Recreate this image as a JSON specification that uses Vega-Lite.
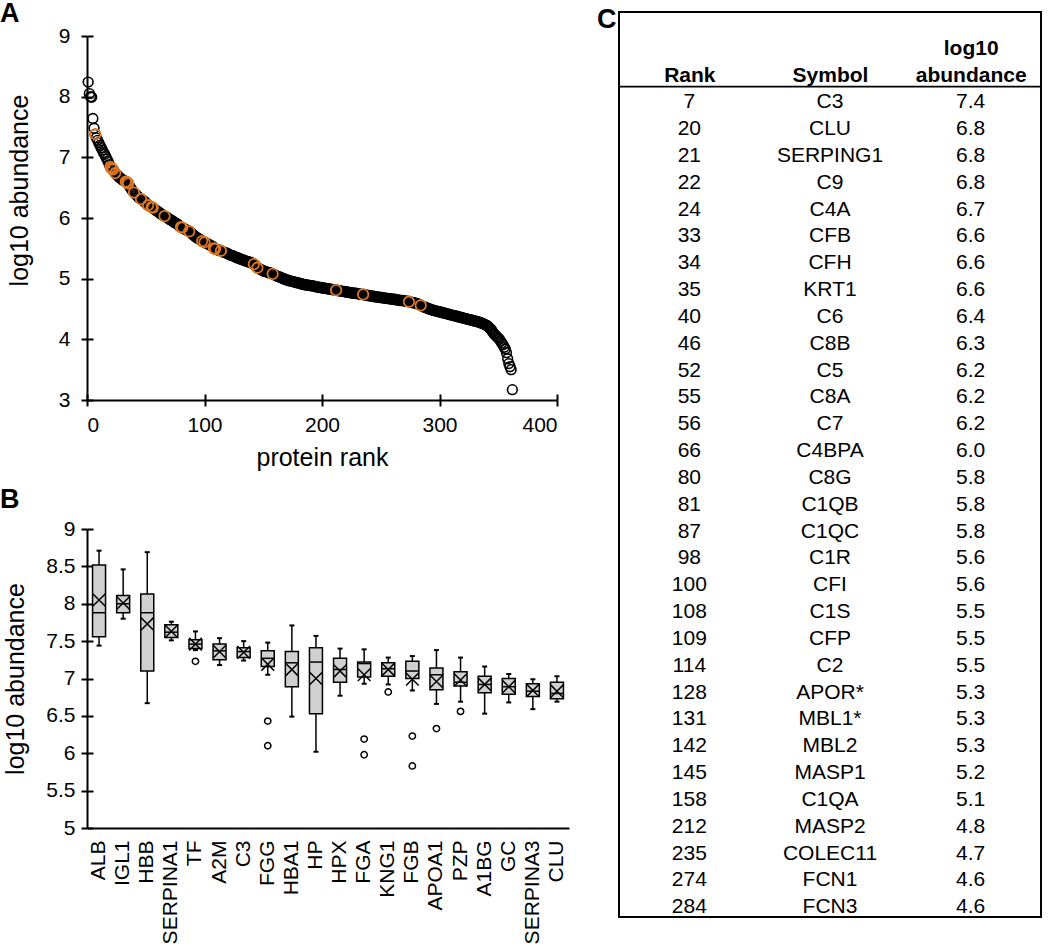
{
  "$schema": "https://vega.github.io/schema/vega-lite/v6.json",
  "background": "white",
  "padding": {"left": 0, "top": 0, "right": 0, "bottom": 0},
  "config": {
    "view": {"stroke": null},
    "font": "Liberation Sans",
    "axis": {"domainColor": "black", "tickColor": "black", "labelColor": "black", "titleColor": "black", "labelFont": "Liberation Sans", "titleFont": "Liberation Sans", "labelFontSize": 21, "titleFontSize": 25, "titleFontWeight": "normal", "grid": false, "domainWidth": 2, "tickWidth": 2, "tickSize": 6},
    "title": {"font": "Liberation Sans", "fontSize": 27, "fontWeight": "bold", "anchor": "start", "color": "black", "frame": "group"}
  },
  "datasets": {
    "curve": [
      {"r":1,"v":8.24},{"r":2,"v":8.05},{"r":3,"v":8.0},{"r":4,"v":7.99},{"r":5,"v":7.64},{"r":6,"v":7.48},{"r":7,"v":7.38},{"r":8,"v":7.32},{"r":9,"v":7.28},{"r":10,"v":7.24},
      {"r":11,"v":7.2},{"r":12,"v":7.16},{"r":13,"v":7.12},{"r":14,"v":7.08},{"r":15,"v":7.05},{"r":16,"v":7.01},{"r":17,"v":6.97},{"r":18,"v":6.93},{"r":19,"v":6.88},{"r":20,"v":6.84},
      {"r":21,"v":6.82},{"r":22,"v":6.8},{"r":23,"v":6.77},{"r":24,"v":6.74},{"r":25,"v":6.72},{"r":26,"v":6.7},{"r":27,"v":6.68},{"r":28,"v":6.66},{"r":29,"v":6.65},{"r":30,"v":6.63},
      {"r":31,"v":6.62},{"r":32,"v":6.61},{"r":33,"v":6.6},{"r":34,"v":6.59},{"r":35,"v":6.57},{"r":36,"v":6.53},{"r":37,"v":6.5},{"r":38,"v":6.47},{"r":39,"v":6.44},{"r":40,"v":6.42},
      {"r":41,"v":6.4},{"r":42,"v":6.38},{"r":43,"v":6.36},{"r":44,"v":6.34},{"r":45,"v":6.32},{"r":46,"v":6.31},{"r":47,"v":6.3},{"r":48,"v":6.29},{"r":49,"v":6.27},{"r":50,"v":6.25},
      {"r":51,"v":6.23},{"r":52,"v":6.21},{"r":53,"v":6.2},{"r":54,"v":6.19},{"r":55,"v":6.18},{"r":56,"v":6.17},{"r":57,"v":6.15},{"r":58,"v":6.14},{"r":59,"v":6.12},{"r":60,"v":6.11},
      {"r":61,"v":6.1},{"r":62,"v":6.08},{"r":63,"v":6.07},{"r":64,"v":6.05},{"r":65,"v":6.04},{"r":66,"v":6.03},{"r":67,"v":6.02},{"r":68,"v":6.01},{"r":69,"v":6.0},{"r":70,"v":5.98},
      {"r":71,"v":5.97},{"r":72,"v":5.96},{"r":73,"v":5.95},{"r":74,"v":5.93},{"r":75,"v":5.92},{"r":76,"v":5.91},{"r":77,"v":5.9},{"r":78,"v":5.88},{"r":79,"v":5.86},{"r":80,"v":5.85},
      {"r":81,"v":5.84},{"r":82,"v":5.83},{"r":83,"v":5.82},{"r":84,"v":5.81},{"r":85,"v":5.8},{"r":86,"v":5.79},{"r":87,"v":5.78},{"r":88,"v":5.77},{"r":89,"v":5.75},{"r":90,"v":5.73},
      {"r":91,"v":5.71},{"r":92,"v":5.7},{"r":93,"v":5.68},{"r":94,"v":5.67},{"r":95,"v":5.66},{"r":96,"v":5.65},{"r":97,"v":5.63},{"r":98,"v":5.62},{"r":99,"v":5.61},{"r":100,"v":5.6},
      {"r":101,"v":5.59},{"r":102,"v":5.58},{"r":103,"v":5.57},{"r":104,"v":5.56},{"r":105,"v":5.55},{"r":106,"v":5.54},{"r":107,"v":5.53},{"r":108,"v":5.5},{"r":109,"v":5.49},{"r":110,"v":5.48},
      {"r":111,"v":5.48},{"r":112,"v":5.47},{"r":113,"v":5.47},{"r":114,"v":5.46},{"r":115,"v":5.45},{"r":116,"v":5.44},{"r":117,"v":5.43},{"r":118,"v":5.43},{"r":119,"v":5.42},{"r":120,"v":5.41},
      {"r":121,"v":5.4},{"r":122,"v":5.39},{"r":123,"v":5.38},{"r":124,"v":5.38},{"r":125,"v":5.37},{"r":126,"v":5.36},{"r":127,"v":5.35},{"r":128,"v":5.34},{"r":129,"v":5.34},{"r":130,"v":5.33},
      {"r":131,"v":5.32},{"r":132,"v":5.31},{"r":133,"v":5.31},{"r":134,"v":5.3},{"r":135,"v":5.29},{"r":136,"v":5.29},{"r":137,"v":5.28},{"r":138,"v":5.27},{"r":139,"v":5.27},{"r":140,"v":5.26},
      {"r":141,"v":5.25},{"r":142,"v":5.24},{"r":143,"v":5.22},{"r":144,"v":5.2},{"r":145,"v":5.18},{"r":146,"v":5.17},{"r":147,"v":5.16},{"r":148,"v":5.15},{"r":149,"v":5.14},{"r":150,"v":5.13},
      {"r":151,"v":5.12},{"r":152,"v":5.12},{"r":153,"v":5.11},{"r":154,"v":5.1},{"r":155,"v":5.1},{"r":156,"v":5.09},{"r":157,"v":5.09},{"r":158,"v":5.08},{"r":159,"v":5.07},{"r":160,"v":5.06},
      {"r":161,"v":5.05},{"r":162,"v":5.04},{"r":163,"v":5.03},{"r":164,"v":5.03},{"r":165,"v":5.02},{"r":166,"v":5.01},{"r":167,"v":5.0},{"r":168,"v":4.99},{"r":169,"v":4.99},{"r":170,"v":4.98},
      {"r":171,"v":4.97},{"r":172,"v":4.97},{"r":173,"v":4.96},{"r":174,"v":4.96},{"r":175,"v":4.95},{"r":176,"v":4.95},{"r":177,"v":4.94},{"r":178,"v":4.94},{"r":179,"v":4.93},{"r":180,"v":4.93},
      {"r":181,"v":4.92},{"r":182,"v":4.92},{"r":183,"v":4.91},{"r":184,"v":4.91},{"r":185,"v":4.9},{"r":186,"v":4.9},{"r":187,"v":4.9},{"r":188,"v":4.89},{"r":189,"v":4.89},{"r":190,"v":4.89},
      {"r":191,"v":4.88},{"r":192,"v":4.88},{"r":193,"v":4.88},{"r":194,"v":4.87},{"r":195,"v":4.87},{"r":196,"v":4.86},{"r":197,"v":4.86},{"r":198,"v":4.86},{"r":199,"v":4.85},{"r":200,"v":4.85},
      {"r":201,"v":4.85},{"r":202,"v":4.84},{"r":203,"v":4.84},{"r":204,"v":4.84},{"r":205,"v":4.83},{"r":206,"v":4.83},{"r":207,"v":4.83},{"r":208,"v":4.82},{"r":209,"v":4.82},{"r":210,"v":4.82},
      {"r":211,"v":4.81},{"r":212,"v":4.81},{"r":213,"v":4.81},{"r":214,"v":4.8},{"r":215,"v":4.8},{"r":216,"v":4.8},{"r":217,"v":4.79},{"r":218,"v":4.79},{"r":219,"v":4.79},{"r":220,"v":4.78},
      {"r":221,"v":4.78},{"r":222,"v":4.78},{"r":223,"v":4.77},{"r":224,"v":4.77},{"r":225,"v":4.77},{"r":226,"v":4.76},{"r":227,"v":4.76},{"r":228,"v":4.76},{"r":229,"v":4.76},{"r":230,"v":4.75},
      {"r":231,"v":4.75},{"r":232,"v":4.75},{"r":233,"v":4.74},{"r":234,"v":4.74},{"r":235,"v":4.74},{"r":236,"v":4.73},{"r":237,"v":4.73},{"r":238,"v":4.73},{"r":239,"v":4.72},{"r":240,"v":4.72},
      {"r":241,"v":4.72},{"r":242,"v":4.71},{"r":243,"v":4.71},{"r":244,"v":4.71},{"r":245,"v":4.7},{"r":246,"v":4.7},{"r":247,"v":4.7},{"r":248,"v":4.7},{"r":249,"v":4.69},{"r":250,"v":4.69},
      {"r":251,"v":4.69},{"r":252,"v":4.68},{"r":253,"v":4.68},{"r":254,"v":4.68},{"r":255,"v":4.68},{"r":256,"v":4.67},{"r":257,"v":4.67},{"r":258,"v":4.67},{"r":259,"v":4.66},{"r":260,"v":4.66},
      {"r":261,"v":4.66},{"r":262,"v":4.66},{"r":263,"v":4.65},{"r":264,"v":4.65},{"r":265,"v":4.65},{"r":266,"v":4.64},{"r":267,"v":4.64},{"r":268,"v":4.64},{"r":269,"v":4.64},{"r":270,"v":4.63},
      {"r":271,"v":4.63},{"r":272,"v":4.63},{"r":273,"v":4.63},{"r":274,"v":4.62},{"r":275,"v":4.62},{"r":276,"v":4.61},{"r":277,"v":4.61},{"r":278,"v":4.6},{"r":279,"v":4.6},{"r":280,"v":4.59},
      {"r":281,"v":4.59},{"r":282,"v":4.58},{"r":283,"v":4.57},{"r":284,"v":4.56},{"r":285,"v":4.55},{"r":286,"v":4.54},{"r":287,"v":4.53},{"r":288,"v":4.53},{"r":289,"v":4.52},{"r":290,"v":4.51},
      {"r":291,"v":4.5},{"r":292,"v":4.5},{"r":293,"v":4.49},{"r":294,"v":4.48},{"r":295,"v":4.48},{"r":296,"v":4.47},{"r":297,"v":4.47},{"r":298,"v":4.46},{"r":299,"v":4.46},{"r":300,"v":4.45},
      {"r":301,"v":4.45},{"r":302,"v":4.44},{"r":303,"v":4.44},{"r":304,"v":4.43},{"r":305,"v":4.43},{"r":306,"v":4.42},{"r":307,"v":4.42},{"r":308,"v":4.41},{"r":309,"v":4.41},{"r":310,"v":4.4},
      {"r":311,"v":4.4},{"r":312,"v":4.39},{"r":313,"v":4.39},{"r":314,"v":4.38},{"r":315,"v":4.38},{"r":316,"v":4.37},{"r":317,"v":4.37},{"r":318,"v":4.36},{"r":319,"v":4.36},{"r":320,"v":4.35},
      {"r":321,"v":4.35},{"r":322,"v":4.34},{"r":323,"v":4.34},{"r":324,"v":4.33},{"r":325,"v":4.33},{"r":326,"v":4.32},{"r":327,"v":4.32},{"r":328,"v":4.31},{"r":329,"v":4.31},{"r":330,"v":4.3},
      {"r":331,"v":4.3},{"r":332,"v":4.29},{"r":333,"v":4.29},{"r":334,"v":4.28},{"r":335,"v":4.27},{"r":336,"v":4.27},{"r":337,"v":4.26},{"r":338,"v":4.25},{"r":339,"v":4.24},{"r":340,"v":4.23},
      {"r":341,"v":4.22},{"r":342,"v":4.2},{"r":343,"v":4.18},{"r":344,"v":4.16},{"r":345,"v":4.13},{"r":346,"v":4.1},{"r":347,"v":4.08},{"r":348,"v":4.06},{"r":349,"v":4.04},{"r":350,"v":4.02},
      {"r":351,"v":4.0},{"r":352,"v":3.97},{"r":353,"v":3.94},{"r":354,"v":3.91},{"r":355,"v":3.87},{"r":356,"v":3.84},{"r":357,"v":3.78},{"r":358,"v":3.68},{"r":359,"v":3.6},{"r":360,"v":3.55},
      {"r":361,"v":3.5},{"r":362,"v":3.17}
    ],
    "boxes": [
      {"p":"ALB","lo":7.44,"q1":7.56,"med":7.88,"q3":8.52,"hi":8.71,"mean":8.05},
      {"p":"IGL1","lo":7.8,"q1":7.88,"med":8.0,"q3":8.11,"hi":8.46,"mean":8.01},
      {"p":"HBB","lo":6.67,"q1":7.1,"med":7.88,"q3":8.13,"hi":8.69,"mean":7.73},
      {"p":"SERPINA1","lo":7.51,"q1":7.55,"med":7.62,"q3":7.72,"hi":7.76,"mean":7.63},
      {"p":"TF","lo":7.38,"q1":7.4,"med":7.46,"q3":7.52,"hi":7.63,"mean":7.46},
      {"p":"A2M","lo":7.18,"q1":7.25,"med":7.37,"q3":7.46,"hi":7.54,"mean":7.36},
      {"p":"C3","lo":7.24,"q1":7.28,"med":7.36,"q3":7.41,"hi":7.5,"mean":7.35},
      {"p":"FGG","lo":7.05,"q1":7.16,"med":7.27,"q3":7.37,"hi":7.48,"mean":7.19},
      {"p":"HBA1","lo":6.49,"q1":6.89,"med":7.21,"q3":7.36,"hi":7.71,"mean":7.12},
      {"p":"HP","lo":6.02,"q1":6.53,"med":7.22,"q3":7.41,"hi":7.57,"mean":7.0},
      {"p":"HPX","lo":6.77,"q1":6.95,"med":7.12,"q3":7.27,"hi":7.4,"mean":7.1},
      {"p":"FGA","lo":6.93,"q1":7.02,"med":7.2,"q3":7.22,"hi":7.39,"mean":7.05},
      {"p":"KNG1","lo":6.92,"q1":7.03,"med":7.13,"q3":7.21,"hi":7.28,"mean":7.12},
      {"p":"FGB","lo":6.84,"q1":7.0,"med":7.1,"q3":7.23,"hi":7.3,"mean":6.99},
      {"p":"APOA1","lo":6.66,"q1":6.85,"med":7.05,"q3":7.14,"hi":7.38,"mean":6.96},
      {"p":"PZP","lo":6.69,"q1":6.9,"med":6.95,"q3":7.09,"hi":7.28,"mean":6.98},
      {"p":"A1BG","lo":6.53,"q1":6.81,"med":6.92,"q3":7.03,"hi":7.16,"mean":6.92},
      {"p":"GC","lo":6.68,"q1":6.79,"med":6.89,"q3":7.0,"hi":7.06,"mean":6.89},
      {"p":"SERPINA3","lo":6.59,"q1":6.76,"med":6.83,"q3":6.93,"hi":6.99,"mean":6.84},
      {"p":"CLU","lo":6.69,"q1":6.73,"med":6.8,"q3":6.95,"hi":7.03,"mean":6.83}
    ],
    "outliers": [
      {"p":"TF","v":7.23},{"p":"FGG","v":6.43},{"p":"FGG","v":6.1},{"p":"FGA","v":6.19},{"p":"FGA","v":5.98},
      {"p":"KNG1","v":6.82},{"p":"FGB","v":6.23},{"p":"FGB","v":5.83},{"p":"APOA1","v":6.33},{"p":"PZP","v":6.56}
    ],
    "table": [
      {"Rank":7,"Symbol":"C3","log10":7.4},{"Rank":20,"Symbol":"CLU","log10":6.8},{"Rank":21,"Symbol":"SERPING1","log10":6.8},
      {"Rank":22,"Symbol":"C9","log10":6.8},{"Rank":24,"Symbol":"C4A","log10":6.7},{"Rank":33,"Symbol":"CFB","log10":6.6},
      {"Rank":34,"Symbol":"CFH","log10":6.6},{"Rank":35,"Symbol":"KRT1","log10":6.6},{"Rank":40,"Symbol":"C6","log10":6.4},
      {"Rank":46,"Symbol":"C8B","log10":6.3},{"Rank":52,"Symbol":"C5","log10":6.2},{"Rank":55,"Symbol":"C8A","log10":6.2},
      {"Rank":56,"Symbol":"C7","log10":6.2},{"Rank":66,"Symbol":"C4BPA","log10":6.0},{"Rank":80,"Symbol":"C8G","log10":5.8},
      {"Rank":81,"Symbol":"C1QB","log10":5.8},{"Rank":87,"Symbol":"C1QC","log10":5.8},{"Rank":98,"Symbol":"C1R","log10":5.6},
      {"Rank":100,"Symbol":"CFI","log10":5.6},{"Rank":108,"Symbol":"C1S","log10":5.5},{"Rank":109,"Symbol":"CFP","log10":5.5},
      {"Rank":114,"Symbol":"C2","log10":5.5},{"Rank":128,"Symbol":"APOR*","log10":5.3},{"Rank":131,"Symbol":"MBL1*","log10":5.3},
      {"Rank":142,"Symbol":"MBL2","log10":5.3},{"Rank":145,"Symbol":"MASP1","log10":5.2},{"Rank":158,"Symbol":"C1QA","log10":5.1},
      {"Rank":212,"Symbol":"MASP2","log10":4.8},{"Rank":235,"Symbol":"COLEC11","log10":4.7},{"Rank":274,"Symbol":"FCN1","log10":4.6},
      {"Rank":284,"Symbol":"FCN3","log10":4.6}
    ]
  },
  "hconcat": [
    {
      "vconcat": [
        {"width": 1, "height": 1, "data": {"values": []}, "mark": "point", "encoding": {}},
        {
          "vconcat": [
            {
              "width": 470, "height": 364,
              "title": {"text": "A", "dx": -87, "dy": 7},
              "data": {"name": "curve"},
              "layer": [
                {
                  "mark": {"type": "point", "shape": "circle", "filled": false, "stroke": "black", "strokeWidth": 1.6, "size": 95, "opacity": 1},
                  "encoding": {
                    "x": {"field": "r", "type": "quantitative", "scale": {"domain": [0, 400]}, "axis": {"values": [0, 100, 200, 300, 400], "title": "protein rank", "labelPadding": 8, "titlePadding": 10}},
                    "y": {"field": "v", "type": "quantitative", "scale": {"domain": [3, 9]}, "axis": {"values": [3, 4, 5, 6, 7, 8, 9], "title": "log10 abundance", "labelPadding": 11, "titlePadding": 26, "titleY": 154}}
                  }
                },
                {
                  "transform": [{"filter": {"field": "r", "oneOf": [7, 20, 21, 22, 24, 33, 34, 35, 40, 46, 52, 55, 56, 66, 80, 81, 87, 98, 100, 108, 109, 114, 142, 145, 158, 212, 235, 274, 284]}}],
                  "mark": {"type": "point", "shape": "circle", "filled": false, "stroke": "#DD7722", "strokeWidth": 1.8, "size": 110, "opacity": 1},
                  "encoding": {
                    "x": {"field": "r", "type": "quantitative", "axis": {"orient": "bottom", "offset": -6, "domain": false, "labels": false, "title": null, "values": [0, 100, 200, 300, 400]}},
                    "y": {"field": "v", "type": "quantitative", "axis": {"orient": "left", "offset": -6, "domain": false, "labels": false, "title": null, "values": [3, 4, 5, 6, 7, 8, 9]}}
                  }
                }
              ],
              "resolve": {"axis": {"x": "independent", "y": "independent"}}
            },
            {
              "width": 482, "height": 299,
              "title": {"text": "B", "dx": -87, "dy": 0},
              "layer": [
                {
                  "data": {"name": "boxes"},
                  "mark": {"type": "rule", "color": "black", "strokeWidth": 1.5},
                  "encoding": {
                    "x": {"field": "p", "type": "nominal", "sort": null, "scale": {"paddingInner": 0, "paddingOuter": 0}, "axis": {"title": null, "labelAngle": -90, "ticks": false, "labelPadding": 12}},
                    "y": {"field": "lo", "type": "quantitative", "scale": {"domain": [5, 9]}, "axis": {"values": [5, 5.5, 6, 6.5, 7, 7.5, 8, 8.5, 9], "format": "~g", "title": "log10 abundance", "labelPadding": 6, "titlePadding": 17}},
                    "y2": {"field": "hi"}
                  }
                },
                {
                  "data": {"name": "boxes"},
                  "mark": {"type": "bar", "fill": "#d0d0d0", "stroke": "black", "strokeWidth": 1.5, "size": 13},
                  "encoding": {
                    "x": {"field": "p", "type": "nominal", "sort": null},
                    "y": {"field": "q1", "type": "quantitative", "axis": null},
                    "y2": {"field": "q3"}
                  }
                },
                {
                  "data": {"name": "boxes"},
                  "mark": {"type": "tick", "color": "black", "thickness": 1.5, "size": 13, "opacity": 1},
                  "encoding": {
                    "x": {"field": "p", "type": "nominal", "sort": null},
                    "y": {"field": "med", "type": "quantitative", "axis": null}
                  }
                },
                {
                  "data": {"name": "boxes"},
                  "mark": {"type": "tick", "color": "black", "thickness": 2, "size": 5, "opacity": 1},
                  "encoding": {
                    "x": {"field": "p", "type": "nominal", "sort": null},
                    "y": {"field": "lo", "type": "quantitative", "axis": null}
                  }
                },
                {
                  "data": {"name": "boxes"},
                  "mark": {"type": "tick", "color": "black", "thickness": 2, "size": 5, "opacity": 1},
                  "encoding": {
                    "x": {"field": "p", "type": "nominal", "sort": null},
                    "y": {"field": "hi", "type": "quantitative", "axis": null}
                  }
                },
                {
                  "data": {"name": "boxes"},
                  "mark": {"type": "point", "shape": "M-1,-1L1,1M-1,1L1,-1", "filled": false, "stroke": "black", "strokeWidth": 1.5, "size": 160, "opacity": 1},
                  "encoding": {
                    "x": {"field": "p", "type": "nominal", "sort": null},
                    "y": {"field": "mean", "type": "quantitative", "axis": null}
                  }
                },
                {
                  "data": {"name": "outliers"},
                  "mark": {"type": "point", "shape": "circle", "filled": false, "stroke": "black", "strokeWidth": 1.5, "size": 40, "opacity": 1},
                  "encoding": {
                    "x": {"field": "p", "type": "nominal", "sort": null},
                    "y": {"field": "v", "type": "quantitative", "axis": {"orient": "left", "offset": -6, "domain": false, "labels": false, "title": null, "values": [5, 5.5, 6, 6.5, 7, 7.5, 8, 8.5, 9]}}
                  }
                }
              ],
              "resolve": {"axis": {"y": "independent"}}
            }
          ],
          "spacing": 129,
          "bounds": "flush"
        }
      ],
      "spacing": 23,
      "bounds": "flush"
    },
    {
      "width": 422, "height": 905,
      "view": {"stroke": "black", "strokeWidth": 2},
      "title": {"text": "C", "dx": -22, "dy": 26},
      "data": {"name": "table"},
      "encoding": {
        "y": {"field": "Rank", "type": "ordinal", "axis": null, "scale": {"type": "point", "padding": 0.36, "domain": ["", " ", "  ", 7, 20, 21, 22, 24, 33, 34, 35, 40, 46, 52, 55, 56, 66, 80, 81, 87, 98, 100, 108, 109, 114, 128, 131, 142, 145, 158, 212, 235, 274, 284]}}
      },
      "layer": [
        {
          "mark": {"type": "text", "fontSize": 21, "font": "Liberation Sans", "color": "black"},
          "encoding": {
            "x": {"datum": "Rank", "type": "nominal", "scale": {"type": "point", "domain": ["Rank", "Symbol", "log10 abundance"], "padding": 0.5},
              "axis": {"orient": "top", "offset": -74, "title": null, "ticks": false, "domainWidth": 1.75, "labelFontWeight": "bold", "labelFontSize": 21, "labelPadding": 28, "labelLineHeight": 27.4, "labelAngle": 0, "labelExpr": "datum.label == 'log10 abundance' ? ['log10', 'abundance'] : ['', datum.label]"}},
            "text": {"field": "Rank"}
          }
        },
        {
          "mark": {"type": "text", "fontSize": 21, "font": "Liberation Sans", "color": "black"},
          "encoding": {
            "x": {"datum": "Symbol", "type": "nominal"},
            "text": {"field": "Symbol"}
          }
        },
        {
          "mark": {"type": "text", "fontSize": 21, "font": "Liberation Sans", "color": "black"},
          "encoding": {
            "x": {"datum": "log10 abundance", "type": "nominal"},
            "text": {"field": "log10", "format": ".1f"}
          }
        }
      ]
    }
  ],
  "spacing": 27,
  "bounds": "full"
}
